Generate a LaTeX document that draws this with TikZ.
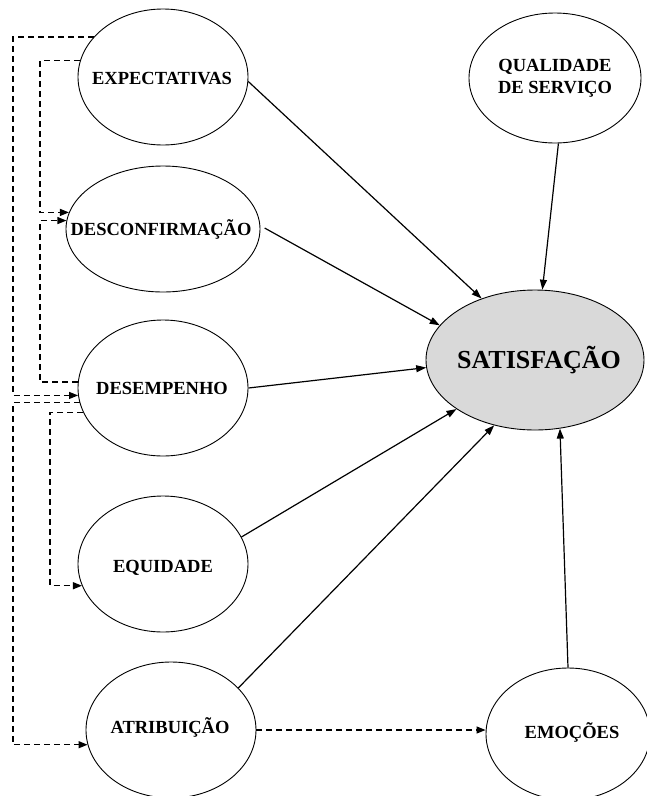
\documentclass[tikz,border=0pt]{standalone}
\usepackage{fontspec}
\setmainfont{Liberation Serif}
\usetikzlibrary{shapes.geometric,arrows.meta}
\definecolor{satfill}{RGB}{217,217,217}
\begin{document}
\begin{tikzpicture}[x=1pt,y=-1pt,
  oval/.style={ellipse,draw,line width=0.9pt,inner sep=0pt,fill=white},
  lbl/.style={font=\fontsize{18.5}{22}\selectfont\bfseries,inner sep=0pt,anchor=base},
  big/.style={font=\fontsize{26}{30}\selectfont\bfseries,inner sep=0pt,anchor=base},
  link/.style={line width=1.2pt,-{Triangle[length=10pt,width=7pt]}},
  dlink/.style={line width=1.2pt,dash pattern=on 6pt off 4pt,-{Triangle[length=9pt,width=7pt]}}]
\useasboundingbox (0,0) rectangle (647,796);

% ellipses
\node[oval,minimum width=170pt,minimum height=136pt] (exp)   at (163,77)  {};
\node[oval,minimum width=194pt,minimum height=126pt] (desc)  at (163,229) {};
\node[oval,minimum width=170pt,minimum height=136pt] (desem) at (163,388) {};
\node[oval,minimum width=170pt,minimum height=136pt] (equi)  at (163,564) {};
\node[oval,minimum width=170pt,minimum height=136pt] (atri)  at (171,730) {};
\node[oval,minimum width=164pt,minimum height=132pt] (emo)   at (568,734) {};
\node[oval,minimum width=172pt,minimum height=130pt] (qual)  at (555,78)  {};
\node[oval,fill=satfill,minimum width=218pt,minimum height=140pt] (sat) at (535,360) {};

% labels
\node[lbl] (expT)   at (162,84)  {EXPECTATIVAS};
\node[lbl] (descT)  at (161,235) {DESCONFIRMAÇÃO};
\node[lbl] (desemT) at (162,394) {DESEMPENHO};
\node[lbl] (equiT)  at (163,572) {EQUIDADE};
\node[lbl] (atriT)  at (170,733) {ATRIBUIÇÃO};
\node[lbl] (emoT)   at (572,738) {EMOÇÕES};
\node[font=\fontsize{18.5}{22}\selectfont\bfseries,align=center,inner sep=0pt] (qualT) at (555,78) {QUALIDADE\\DE SERVIÇO};
\node[big] (satT) at (539,368) {SATISFAÇÃO};

% x positions of the dashed feedback lines
\coordinate (xo) at (13,0);
\coordinate (xi) at (40,0);
\coordinate (xe) at (50,0);

% dashed links on the left
\draw[dlink] (exp.150) -| (xo |- desem.185) -- (desem.185);
\draw[dlink] (exp.169) -| (xi |- desc.170) -- (desc.170);
\draw[dlink] (desem.176) -| (xi |- desc.175) -- (desc.175);
\draw[dlink] (desem.190) -| (xo |- atri.190) -- (atri.190);
\draw[dlink] (desem.197) -| (xe |- equi.195) -- (equi.195);
\draw[dlink] (atri.east) -- (atri.east -| emo.west);

% solid links into SATISFAÇÃO
\draw[link] (exp.-3) -- (sat.131);
\draw[link,shorten <=5pt] (desc.2) -- (sat.160);
\draw[link] (desem.east) -- (sat.184);
\draw[link] (equi.19) -- (sat.212);
\draw[link] (atri.32) -- (sat.238);
\draw[link] (qual.273) -- (sat.84);
\draw[link] (emo.north) -- (sat.290);
\end{tikzpicture}
\end{document}
